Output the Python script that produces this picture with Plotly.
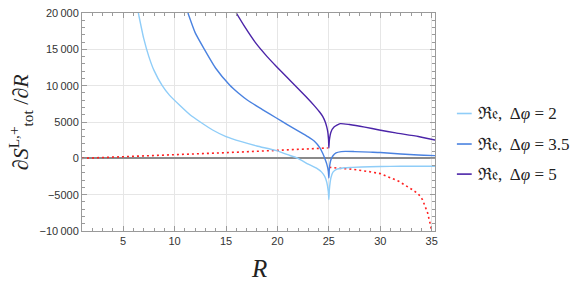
import plotly.graph_objects as go

# ---- data ----
R_phi2 = [6.48, 7.0, 7.5, 8.0, 8.8, 9.5, 10.5, 11.5, 12.5, 13.7, 15.0, 16.5, 18.0, 19.9,
          21.0, 22.0, 23.0, 23.8, 24.3, 24.6, 24.8, 24.95, 25.0, 25.05, 25.2, 25.4, 25.8,
          26.5, 27.3, 29.0, 31.0, 33.0, 35.4]
V_phi2 = [20000, 16500, 14000, 12100, 10000, 8700, 7300, 6000, 5000, 3900, 3000, 2300, 1700, 1050,
          500, 0, -800, -1350, -1900, -2500, -3300, -4600, -5670, -4300, -2700, -1900, -1500,
          -1300, -1250, -1150, -1100, -1080, -1080]

R_phi35 = [11.3, 12.0, 12.9, 14.0, 15.35, 16.2, 17.1, 18.5, 19.9, 21.0, 22.0, 23.0, 23.6, 24.1,
           24.4, 24.6, 24.8, 24.95, 25.0, 25.05, 25.2, 25.4, 25.7, 26.2, 26.6, 27.5, 29.0,
           30.0, 32.0, 33.7, 35.4]
V_phi35 = [20000, 17300, 15000, 12400, 10100, 9000, 8000, 6750, 5550, 4600, 3780, 2950, 2350, 1500,
           700, 0, -800, -1800, -2700, -1400, -200, 350, 740, 920, 960, 930, 850,
           800, 600, 450, 370]

R_phi5 = [16.0, 16.8, 17.9, 19.0, 19.9, 21.0, 22.0, 22.9, 23.6, 24.1, 24.4, 24.65, 24.8,
          24.9, 24.97, 25.0, 25.05, 25.2, 25.5, 26.1, 27.0, 28.5, 29.9, 31.5, 33.7, 35.4]
V_phi5 = [20000, 18150, 15850, 14000, 12640, 11040, 9600, 8300, 7220, 6370, 5770, 5000, 4300,
          3600, 2600, 1430, 2500, 3600, 4300, 4770, 4650, 4300, 3900, 3500, 3000, 2500]

R_red = [1.0, 5.0, 10.0, 15.0, 20.0, 24.9, None, 25.05, 26.0, 27.3, 29.0, 30.0, 31.2, 31.8,
         33.1, 33.7, 34.1, 34.6, 34.9, 35.1]
V_red = [0, 200, 480, 780, 1100, 1430, None, -1250, -1320, -1500, -1850, -2100, -2800, -3160,
         -4300, -4900, -5670, -7500, -9300, -11000]

names = ["ℜ𝔢,  Δ<i>φ</i> = 2", "ℜ𝔢,  Δ<i>φ</i> = 3.5", "ℜ𝔢,  Δ<i>φ</i> = 5"]
colors = ["#8fcdf8", "#4a82e0", "#4b24a8"]

y_tickvals = [-10000, -5000, 0, 5000, 10000, 15000, 20000]
y_ticktext = ["\u221210\u2009000", "\u22125000", "0", "5000", "10\u2009000", "15\u2009000", "20\u2009000"]
x_tickvals = [5, 10, 15, 20, 25, 30, 35]

fig = go.Figure()
fig.add_trace(go.Scatter(x=R_red, y=V_red, mode="lines", showlegend=False, hoverinfo="skip",
                         line=dict(color="#ff2020", width=1.6, dash="2px,3px")))
for R, V, c in [(R_phi2, V_phi2, colors[0]), (R_phi35, V_phi35, colors[1]), (R_phi5, V_phi5, colors[2])]:
    fig.add_trace(go.Scatter(x=R, y=V, mode="lines", showlegend=False, hoverinfo="skip",
                             line=dict(color=c, width=1.4, shape="spline", smoothing=0.5)))

axis_common = dict(showline=True, linecolor="#9a9a9a", linewidth=1, mirror="ticks",
                   ticks="inside", ticklen=5, tickcolor="#9a9a9a", automargin=False,
                   ticklabeloverflow="allow",
                   showgrid=True, gridcolor="#e6e6e6", gridwidth=1,
                   tickfont=dict(family="Liberation Sans, Arial", size=11, color="#333333"))

fig.update_xaxes(range=[1, 35.32], tickvals=x_tickvals, zeroline=False,
                 minor=dict(dtick=1, ticks="inside", ticklen=3, tickcolor="#9a9a9a", showgrid=False),
                 **axis_common)
fig.update_yaxes(range=[-10000, 20000], tickvals=y_tickvals, ticktext=y_ticktext,
                 zeroline=True, zerolinecolor="#8a8a8a", zerolinewidth=1.5,
                 minor=dict(dtick=1000, ticks="inside", ticklen=3, tickcolor="#9a9a9a", showgrid=False),
                 **axis_common)

# axis titles
fig.add_annotation(text="∂<i>S</i><sup>L,+</sup><sub>tot</sub> /∂<i>R</i>",
                   xref="paper", yref="paper", x=-0.175, y=0.5, xanchor="center", yanchor="middle",
                   textangle=-90, showarrow=False,
                   font=dict(family="Liberation Serif, serif", size=22, color="#222"))
fig.add_annotation(text="<i>R</i>", xref="paper", yref="paper", x=0.5, y=-0.17,
                   xanchor="center", yanchor="middle", showarrow=False,
                   font=dict(family="Liberation Serif, serif", size=25, color="#222"))

# legend (drawn manually to match the short legend lines)
leg_y = [0.539, 0.399, 0.261]
for nm, c, yy in zip(names, colors, leg_y):
    fig.add_shape(type="line", xref="paper", yref="paper", x0=1.062, x1=1.104, y0=yy, y1=yy,
                  line=dict(color=c, width=1.6))
    fig.add_annotation(text=nm, xref="paper", yref="paper", x=1.116, y=yy,
                       xanchor="left", yanchor="middle", showarrow=False,
                       font=dict(family="Liberation Serif, serif", size=17, color="#222"))

fig.update_layout(
    width=581, height=287,
    margin=dict(l=82, r=146, t=13, b=56),
    plot_bgcolor="white", paper_bgcolor="white",
    showlegend=False,
)

# remove the browser's default 8px page margin so the figure fills the window
fig.write_html("out.html", config={"displayModeBar": False},
               post_script="document.body.style.margin='0px';")
